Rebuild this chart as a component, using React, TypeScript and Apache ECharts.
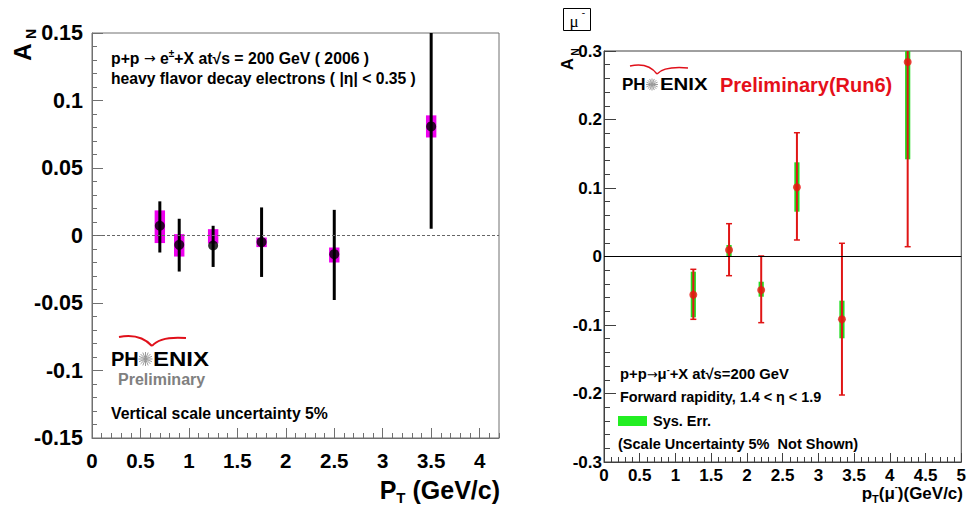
import React, { useEffect, useRef } from "react";
import * as echarts from "echarts";

// ---------- Left panel: heavy flavor decay electrons ----------
const leftPt = [0.7, 0.9, 1.25, 1.75, 2.5, 3.5];
const leftAN = [0.0072, -0.0069, -0.0074, -0.0049, -0.0138, 0.0808];
const leftStatLo = [-0.0126, -0.0267, -0.0233, -0.0307, -0.0478, 0.005];
const leftStatHi = [0.0253, 0.0124, 0.0072, 0.0208, 0.019, 0.17];
const leftSysLo = [-0.0056, -0.0156, -0.0059, -0.0086, -0.02, 0.0726];
const leftSysHi = [0.0186, 0.001, 0.0047, -0.0015, -0.0089, 0.089];

// ---------- Right panel: mu- ----------
const rightPt = [1.25, 1.75, 2.2, 2.7, 3.33, 4.25];
const rightAN = [-0.0558, 0.0095, -0.0489, 0.101, -0.0917, 0.284];
const rightStatLo = [-0.0917, -0.028, -0.0966, 0.0241, -0.2022, 0.0143];
const rightStatHi = [-0.0187, 0.0479, 0.0007, 0.1807, 0.0193, 0.36];
const rightSysLo = [-0.0888, 0.0007, -0.0587, 0.0654, -0.1194, 0.1419];
const rightSysHi = [-0.0222, 0.0168, -0.0368, 0.1375, -0.0645, 0.34];

const leftXTicks = { min: 0, max: 4.2, major: 0.5, minor: 0.1 };
const leftYTicks = { min: -0.15, max: 0.15, major: 0.05, minor: 0.01 };
const rightXTicks = { min: 0, max: 5, major: 0.5, minor: 0.1 };
const rightYTicks = { min: -0.3, max: 0.3, major: 0.1, minor: 0.02 };

const FONT = "Liberation Sans, Arial, sans-serif";

function boxItem(halfW: number, color: string) {
  return (params: any, api: any) => {
    const x = api.value(0);
    const lo = api.value(1);
    const hi = api.value(2);
    const a = api.coord([x, hi]);
    const b = api.coord([x, lo]);
    const cs = params.coordSys;
    const top = Math.max(a[1], cs.y);
    const bot = Math.min(b[1], cs.y + cs.height);
    return {
      type: "rect",
      shape: { x: a[0] - halfW, y: top, width: halfW * 2, height: bot - top },
      style: { fill: color },
    };
  };
}

function errItem(color: string, lw: number, capHalf: number) {
  return (params: any, api: any) => {
    const x = api.value(0);
    const lo = api.value(1);
    const hi = api.value(2);
    const a = api.coord([x, hi]);
    const b = api.coord([x, lo]);
    const cs = params.coordSys;
    const top = Math.max(a[1], cs.y);
    const bot = Math.min(b[1], cs.y + cs.height);
    const children: any[] = [
      {
        type: "line",
        shape: { x1: a[0], y1: top, x2: a[0], y2: bot },
        style: { stroke: color, lineWidth: lw },
      },
    ];
    if (capHalf > 0) {
      if (a[1] >= cs.y)
        children.push({
          type: "line",
          shape: { x1: a[0] - capHalf, y1: a[1], x2: a[0] + capHalf, y2: a[1] },
          style: { stroke: color, lineWidth: 1.5 },
        });
      if (b[1] <= cs.y + cs.height)
        children.push({
          type: "line",
          shape: { x1: b[0] - capHalf, y1: b[1], x2: b[0] + capHalf, y2: b[1] },
          style: { stroke: color, lineWidth: 1.5 },
        });
    }
    return { type: "group", children };
  };
}

function valAxis(
  grid: number,
  t: { min: number; max: number; major: number; minor: number },
  isX: boolean,
  minorAxis: boolean,
  opts: any
) {
  const base: any = {
    type: "value",
    gridIndex: grid,
    min: t.min,
    max: t.max,
    interval: minorAxis ? t.minor : t.major,
    position: isX ? "bottom" : "left",
    splitLine: { show: false },
    axisLine: { show: !minorAxis, onZero: false, lineStyle: { color: opts.lineColor, width: 1 } },
    axisTick: {
      show: true,
      inside: true,
      length: minorAxis ? opts.minorLen : opts.majorLen,
      lineStyle: { color: opts.lineColor, width: 1 },
    },
    axisLabel: minorAxis
      ? { show: false }
      : {
          show: true,
          showMaxLabel: opts.showMax,
          margin: opts.margin,
          color: "#000",
          fontFamily: FONT,
          fontWeight: "bold",
          fontSize: opts.fontSize,
          formatter: (v: number) => String(+v.toFixed(opts.digits)),
        },
  };
  return base;
}

function star(cx: number, cy: number, r: number) {
  const children: any[] = [];
  for (let k = 0; k < 16; k++) {
    const ang = (k * Math.PI) / 8;
    children.push({
      type: "line",
      shape: { x1: cx, y1: cy, x2: cx + r * Math.cos(ang), y2: cy + r * Math.sin(ang) },
      style: { stroke: "#9a9a9a", lineWidth: 1 },
    });
  }
  return { type: "group", children };
}

function txt(x: number, y: number, text: string, size: number, extra: any = {}) {
  return {
    type: "text",
    x,
    y,
    style: {
      text,
      fontFamily: FONT,
      fontWeight: "bold",
      fontSize: size,
      fill: "#000",
      align: "left",
      verticalAlign: "middle",
      ...extra,
    },
  };
}

export default function App() {
  const ref = useRef<HTMLDivElement>(null);
  useEffect(() => {
    const chart = echarts.init(ref.current!, null, { renderer: "svg" });

    const leftOpts = { lineColor: "#707070", majorLen: 11, minorLen: 5, fontSize: 20.5, margin: 12, digits: 2 };
    const rightOpts = { lineColor: "#404040", majorLen: 11, minorLen: 5, fontSize: 17, margin: 5, digits: 1 };

    const option: any = {
      animation: false,
      backgroundColor: "#fff",
      grid: [
        { left: 92, top: 33, width: 407, height: 405, show: true, borderColor: "#707070", borderWidth: 1, backgroundColor: "transparent" },
        { left: 604, top: 51, width: 359, height: 411, show: true, borderColor: "#404040", borderWidth: 1, backgroundColor: "transparent" },
      ],
      xAxis: [
        valAxis(0, leftXTicks, true, false, { ...leftOpts, showMax: false, majorLen: 10 }),
        valAxis(0, leftXTicks, true, true, { ...leftOpts, majorLen: 10 }),
        valAxis(1, rightXTicks, true, false, { ...rightOpts, showMax: true, majorLen: 9 }),
        valAxis(1, rightXTicks, true, true, { ...rightOpts, majorLen: 9 }),
      ],
      yAxis: [
        valAxis(0, leftYTicks, false, false, { ...leftOpts, fontSize: 21.5, margin: 9, showMax: true }),
        valAxis(0, leftYTicks, false, true, leftOpts),
        valAxis(1, rightYTicks, false, false, { ...rightOpts, margin: 2, showMax: true, majorLen: 12 }),
        valAxis(1, rightYTicks, false, true, { ...rightOpts, minorLen: 6 }),
      ],
      series: [
        {
          type: "scatter",
          xAxisIndex: 0,
          yAxisIndex: 0,
          data: [],
          markLine: {
            silent: true,
            symbol: ["none", "none"],
            label: { show: false },
            lineStyle: { type: [3, 2], color: "#666", width: 1 },
            data: [{ yAxis: 0 }],
          },
        },
        {
          type: "custom",
          xAxisIndex: 0,
          yAxisIndex: 0,
          renderItem: boxItem(5.2, "#ee00ee"),
          encode: { x: 0, y: [1, 2] },
          data: leftPt.map((x, i) => [x, leftSysLo[i], leftSysHi[i]]),
        },
        {
          type: "custom",
          xAxisIndex: 0,
          yAxisIndex: 0,
          renderItem: errItem("#000", 3, 0),
          encode: { x: 0, y: [1, 2] },
          data: leftPt.map((x, i) => [x, leftStatLo[i], leftStatHi[i]]),
        },
        {
          type: "scatter",
          xAxisIndex: 0,
          yAxisIndex: 0,
          symbol: "circle",
          symbolSize: 10,
          itemStyle: { color: "#000" },
          data: leftPt.map((x, i) => [x, leftAN[i]]),
        },
        {
          type: "scatter",
          xAxisIndex: 2,
          yAxisIndex: 2,
          data: [],
          markLine: {
            silent: true,
            symbol: ["none", "none"],
            label: { show: false },
            lineStyle: { type: "solid", color: "#000", width: 1 },
            data: [{ yAxis: 0 }],
          },
        },
        {
          type: "custom",
          xAxisIndex: 2,
          yAxisIndex: 2,
          renderItem: boxItem(2.6, "#22dd22"),
          encode: { x: 0, y: [1, 2] },
          data: rightPt.map((x, i) => [x, rightSysLo[i], rightSysHi[i]]),
        },
        {
          type: "custom",
          xAxisIndex: 2,
          yAxisIndex: 2,
          renderItem: errItem("#e01515", 2, 3),
          encode: { x: 0, y: [1, 2] },
          data: rightPt.map((x, i) => [x, rightStatLo[i], rightStatHi[i]]),
        },
        {
          type: "scatter",
          xAxisIndex: 2,
          yAxisIndex: 2,
          symbol: "circle",
          symbolSize: 8,
          itemStyle: { color: "#ee1111" },
          data: rightPt.map((x, i) => [x, rightAN[i]]),
        },
      ],
      graphic: [
        // ---- left panel texts ----
        {
          type: "text",
          x: 111,
          y: 58,
          style: {
            text: "{t|p+p }{ar|\u2192}{t| e}{sup|\u00b1}{t|+X at\u221as = 200 GeV ( 2006 )}",
            fontFamily: FONT,
            align: "left",
            verticalAlign: "middle",
            rich: {
              t: { fontFamily: FONT, fontWeight: "bold", fontSize: 15.8, lineHeight: 19, fill: "#000" },
              ar: { fontFamily: "DejaVu Sans, sans-serif", fontSize: 14, lineHeight: 19, fill: "#000" },
              sup: { fontFamily: FONT, fontWeight: "bold", fontSize: 10, lineHeight: 11, verticalAlign: "top", fill: "#000" },
            },
          },
        },
        txt(111, 78, "heavy flavor decay electrons ( |\u03b7| < 0.35 )", 15.7),
        txt(111, 413, "Vertical scale uncertainty 5%", 15.8),
        // PHENIX logo left
        {
          type: "bezierCurve",
          shape: { x1: 119, y1: 337, cpx1: 140, cpy1: 333, x2: 152, y2: 346 },
          style: { stroke: "#e0101a", lineWidth: 2, fill: "none" },
        },
        {
          type: "bezierCurve",
          shape: { x1: 152, y1: 346, cpx1: 160, cpy1: 336, x2: 186, y2: 338 },
          style: { stroke: "#e0101a", lineWidth: 2, fill: "none" },
        },
        txt(111, 359, "PH", 20),
        star(145.5, 359, 7),
        { ...txt(153, 359, "ENIX", 20), scaleX: 1.2, originX: 0, originY: 0 },
        txt(118, 379, "Preliminary", 16, { fill: "#808080" }),
        // left y title A_N
        { type: "text", x: 22, y: 52, rotation: Math.PI / 2, style: { text: "A", fontFamily: FONT, fontWeight: "bold", fontSize: 24, fill: "#000", align: "center", verticalAlign: "middle" } },
        { type: "text", x: 31, y: 34, rotation: Math.PI / 2, style: { text: "N", fontFamily: FONT, fontWeight: "bold", fontSize: 14, fill: "#000", align: "center", verticalAlign: "middle" } },
        // left x title
        {
          type: "text",
          x: 500,
          y: 490,
          style: {
            text: "{b|P}{s|T}{b| (GeV/c)}",
            align: "right",
            verticalAlign: "middle",
            rich: {
              b: { fontFamily: FONT, fontWeight: "bold", fontSize: 25, lineHeight: 30, fill: "#000" },
              s: { fontFamily: FONT, fontWeight: "bold", fontSize: 15, lineHeight: 15, verticalAlign: "bottom", fill: "#000" },
            },
          },
        },
        // ---- right panel texts ----
        { type: "rect", shape: { x: 563.5, y: 8.5, width: 27, height: 22 }, style: { fill: "#fff", stroke: "#000", lineWidth: 1 } },
        { type: "text", x: 574, y: 21, style: { text: "\u03bc", fontFamily: "Liberation Serif, serif", fontSize: 17, fill: "#000", align: "center", verticalAlign: "middle" } },
        { type: "text", x: 583.5, y: 12.5, style: { text: "-", fontFamily: "Liberation Serif, serif", fontSize: 10, fill: "#000", align: "center", verticalAlign: "middle" } },
        { type: "text", x: 567, y: 64, rotation: Math.PI / 2, style: { text: "A", fontFamily: FONT, fontWeight: "bold", fontSize: 17, fill: "#000", align: "center", verticalAlign: "middle" } },
        { type: "text", x: 574.5, y: 52, rotation: Math.PI / 2, style: { text: "N", fontFamily: FONT, fontWeight: "bold", fontSize: 10.5, fill: "#000", align: "center", verticalAlign: "middle" } },
        // PHENIX logo right
        {
          type: "bezierCurve",
          shape: { x1: 630, y1: 66, cpx1: 648, cpy1: 62, x2: 657, y2: 74 },
          style: { stroke: "#e0101a", lineWidth: 1.5, fill: "none" },
        },
        {
          type: "bezierCurve",
          shape: { x1: 657, y1: 74, cpx1: 664, cpy1: 66, x2: 688, y2: 68 },
          style: { stroke: "#e0101a", lineWidth: 1.5, fill: "none" },
        },
        txt(622, 84.5, "PH", 17),
        star(652, 84.5, 6),
        { ...txt(660, 84.5, "ENIX", 17), scaleX: 1.2, originX: 0, originY: 0 },
        txt(720, 84.5, "Preliminary(Run6)", 20, { fill: "#e5101a" }),
        {
          type: "text",
          x: 620,
          y: 374,
          style: {
            text: "{t|p+p}{ar|\u2192}{t|\u03bc}{sup|-}{t|+X at\u221as=200 GeV}",
            align: "left",
            verticalAlign: "middle",
            rich: {
              t: { fontFamily: FONT, fontWeight: "bold", fontSize: 14.8, lineHeight: 18, fill: "#000" },
              ar: { fontFamily: "DejaVu Sans, sans-serif", fontSize: 13, lineHeight: 18, fill: "#000" },
              sup: { fontFamily: FONT, fontWeight: "bold", fontSize: 9, lineHeight: 10, verticalAlign: "top", fill: "#000" },
            },
          },
        },
        txt(620, 396.5, "Forward rapidity, 1.4 < \u03b7 < 1.9", 14.4),
        { type: "rect", shape: { x: 618, y: 416, width: 29, height: 10 }, style: { fill: "#22ee22" } },
        txt(653, 421, "Sys. Err.", 14.5),
        txt(618, 443.5, "(Scale Uncertainty 5%  Not Shown)", 14.5),
        {
          type: "text",
          x: 963,
          y: 493,
          style: {
            text: "{b|p}{s|T}{b|(\u03bc}{sup|-}{b|)(GeV/c)}",
            align: "right",
            verticalAlign: "middle",
            rich: {
              b: { fontFamily: FONT, fontWeight: "bold", fontSize: 17, lineHeight: 22, fill: "#000" },
              s: { fontFamily: FONT, fontWeight: "bold", fontSize: 11, lineHeight: 11, verticalAlign: "bottom", fill: "#000" },
              sup: { fontFamily: FONT, fontWeight: "bold", fontSize: 9, lineHeight: 10, verticalAlign: "top", fill: "#000" },
            },
          },
        },
      ],
    };

    chart.setOption(option);
    return () => chart.dispose();
  }, []);

  return (
    <div
      ref={ref}
      style={{ position: "absolute", left: 0, top: 0, width: 969, height: 508, background: "#fff" }}
    />
  );
}
